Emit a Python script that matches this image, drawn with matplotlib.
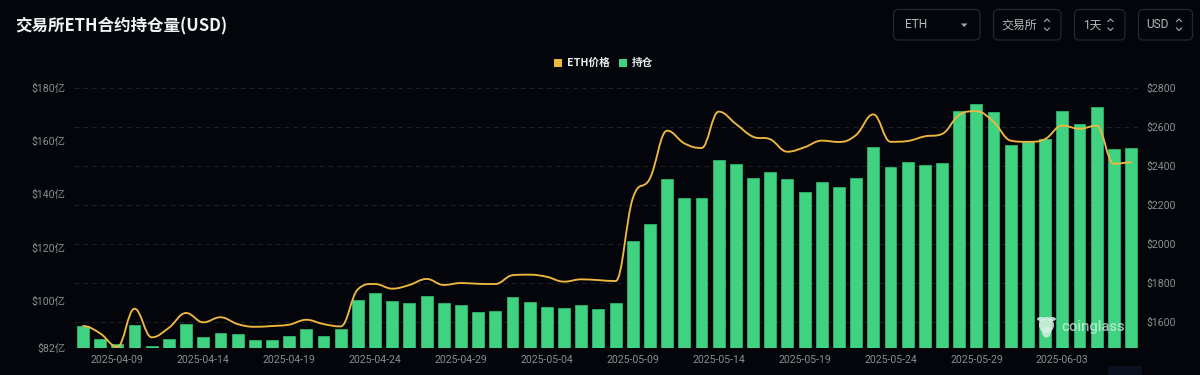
import matplotlib
matplotlib.use("Agg")
import matplotlib.pyplot as plt
import numpy as np
import pandas as pd
from matplotlib.patches import FancyBboxPatch, Rectangle, Ellipse
from matplotlib.path import Path
from matplotlib.patches import PathPatch

FONT = ['Roboto', 'Noto Sans CJK SC']
CJK = ['Noto Sans CJK SC', 'DejaVu Sans']
plt.rcParams['font.family'] = FONT

dates = pd.date_range('2025-04-07', '2025-06-07', freq='D').strftime('%Y-%m-%d').tolist()
open_interest = [90.3, 85.6, 83.6, 90.9, 82.8, 85.6, 91.2, 86.2, 87.7, 87.2, 85.1, 85.1, 86.5, 89.2, 86.7, 89.2,
                 100.2, 102.7, 99.8, 99.2, 101.6, 98.9, 98.2, 95.5, 95.9, 101.2, 99.5, 97.4, 97.2, 98.2, 96.7, 98.9,
                 122.5, 128.8, 145.7, 138.6, 138.8, 152.9, 151.6, 146.1, 148.4, 145.7, 140.9, 144.5, 142.8, 146.2,
                 157.9, 150.5, 152.3, 151.0, 152.0, 171.5, 173.9, 171.0, 158.7, 159.7, 160.8, 171.5, 166.5, 172.9,
                 157.2, 157.4]
eth_price = [1578, 1540, 1471, 1667, 1520, 1569, 1645, 1597, 1623, 1588, 1574, 1578, 1585, 1610, 1588, 1576,
             1767, 1794, 1770, 1789, 1820, 1789, 1799, 1795, 1794, 1839, 1842, 1831, 1806, 1818, 1814, 1809,
             2234, 2337, 2582, 2517, 2493, 2680, 2617, 2551, 2538, 2474, 2497, 2531, 2524, 2560,
             2666, 2525, 2529, 2553, 2565, 2663, 2682, 2628, 2531, 2525, 2539, 2608, 2592, 2608,
             2412, 2419]
left_ticks = [82, 100, 120, 140, 160, 180]
left_labels = ['$82亿', '$100亿', '$120亿', '$140亿', '$160亿', '$180亿']
right_ticks = [1600, 1800, 2000, 2200, 2400, 2600, 2800]
right_labels = ['$1600', '$1800', '$2000', '$2200', '$2400', '$2600', '$2800']
date_ticks = ['2025-04-09', '2025-04-14', '2025-04-19', '2025-04-24', '2025-04-29', '2025-05-04',
              '2025-05-09', '2025-05-14', '2025-05-19', '2025-05-24', '2025-05-29', '2025-06-03']
title = '交易所ETH合约持仓量(USD)'
series_names = ['ETH价格', '持仓']
controls = ['ETH', '交易所', '1天', 'USD']

BG = '#03050a'
GREEN = '#3fd280'
GREEN_EDGE = '#2fb56c'
GOLD = '#eeb73f'
TICK = '#8b8d90'
GRID = '#1e2024'

W, H = 1200, 375
fig = plt.figure(figsize=(W / 100, H / 100), dpi=100, facecolor=BG)
rect = [74.4 / W, 1 - 348.2 / H, (1139.6 - 74.4) / W, (348.2 - 88.3) / H]
x = np.arange(len(dates))
xlim = (-0.5, len(dates) - 0.5)
price_lim = (1464, 2800)

# grid layer + right axis
ax_g = fig.add_axes(rect, zorder=0, facecolor=BG)
ax_g.set_xlim(xlim)
ax_g.set_ylim(price_lim)
ax_g.yaxis.tick_right()
ax_g.set_yticks(right_ticks, right_labels)
ax_g.tick_params(axis='y', length=0, pad=5, labelsize=7.6, labelcolor=TICK)
ax_g.set_xticks([])
ax_g.grid(axis='y', color=GRID, lw=0.7, ls=(0, (5, 4)))
ax_g.axhline(price_lim[0], color=GRID, lw=0.7, ls=(0, (5, 4)))
for s in ax_g.spines.values():
    s.set_visible(False)

# bars + left axis + date axis
ax = fig.add_axes(rect, zorder=1, facecolor='none')
ax.bar(x, open_interest, width=0.69, bottom=0, color=GREEN, edgecolor=GREEN_EDGE, linewidth=0.6)
ax.set_xlim(xlim)
ax.set_ylim(82, 180)
ax.set_yticks(left_ticks, left_labels)
ax.set_xticks([dates.index(d) for d in date_ticks], date_ticks)
ax.tick_params(axis='both', length=0, labelsize=7.6, labelcolor=TICK)
ax.tick_params(axis='y', pad=6.5)
ax.tick_params(axis='x', pad=5)
for s in ax.spines.values():
    s.set_visible(False)

# smooth price line
ax_l = fig.add_axes(rect, zorder=2, facecolor='none')
ax_l.set_xlim(xlim)
ax_l.set_ylim(price_lim)
ax_l.axis('off')
p = np.array(eth_price, float)
t = np.zeros_like(p)
t[1:-1] = (p[2:] - p[:-2]) / 2
for i in range(1, len(p) - 1):
    if (p[i] - p[i - 1]) * (p[i + 1] - p[i]) <= 0:
        t[i] = 0
    else:
        lim = 3 * min(abs(p[i] - p[i - 1]), abs(p[i + 1] - p[i]))
        t[i] = np.sign(t[i]) * min(abs(t[i]), lim)
verts = [(x[0], p[0])]
codes = [Path.MOVETO]
for i in range(len(p) - 1):
    verts += [(x[i] + 0.4, p[i] + t[i] * 0.4), (x[i + 1] - 0.4, p[i + 1] - t[i + 1] * 0.4), (x[i + 1], p[i + 1])]
    codes += [Path.CURVE4] * 3
ax_l.add_patch(PathPatch(Path(verts, codes), fc='none', ec=GOLD, lw=1.35, capstyle='round', joinstyle='round'))

# overlay in pixel coordinates
ov = fig.add_axes([0, 0, 1, 1], zorder=3, facecolor='none')
ov.set_xlim(0, W)
ov.set_ylim(H, 0)
ov.axis('off')

ov.text(15, 26, title, family=CJK, fontsize=11.9, fontweight='bold', color='#f2f3f4', va='center', ha='left')

# legend
ov.add_patch(Rectangle((554, 59), 8, 8, fc=GOLD, ec='none'))
ov.text(567, 63, series_names[0], family=CJK, fontsize=7.7, fontweight='bold', color='#e8e9ea', va='center')
ov.add_patch(Rectangle((619, 59), 8, 8, fc=GREEN, ec='none'))
ov.text(632, 63, series_names[1], family=CJK, fontsize=7.7, fontweight='bold', color='#e8e9ea', va='center')

# top-right controls
boxes = [(893.5, 980), (993.5, 1061), (1074.5, 1125), (1138.5, 1192.5)]
text_x = [904.5, 1001.5, 1083.5, 1146.5]
chev_x = [None, 1047, 1110.5, 1179]
for (x0, x1), label, tx, cx in zip(boxes, controls, text_x, chev_x):
    ov.add_patch(FancyBboxPatch((x0 + 3, 12.5), x1 - x0 - 6, 24.5, boxstyle='round,pad=3,rounding_size=5',
                                fc='none', ec='#26282d', lw=0.9))
    ov.text(tx, 25, label, family=FONT, fontsize=8.6, color='#b7babd', va='center', ha='left')
    if cx is not None:
        ov.plot([cx - 2.5, cx, cx + 2.5], [21.5, 19, 21.5], color='#a5a8ab', lw=0.8)
        ov.plot([cx - 2.5, cx, cx + 2.5], [28, 30.5, 28], color='#a5a8ab', lw=0.8)
ov.fill([961, 967.5, 964.2], [23.5, 23.5, 27], color='#a5a8ab', lw=0)

# watermark
wm = '#d8f0e2'
ov.add_patch(Ellipse((1046.5, 325), 15, 16, fc=wm, ec='none', alpha=0.85))
ov.add_patch(Ellipse((1046.5, 332), 9, 11, fc=wm, ec='none', alpha=0.85))
ov.add_patch(Ellipse((1041, 319), 8, 4, fc=wm, ec='none', alpha=0.85))
ov.add_patch(Ellipse((1052, 319), 8, 4, fc=wm, ec='none', alpha=0.85))
ov.text(1061, 327, 'coinglass', family=FONT, fontsize=10.6, fontweight='medium', color=wm, alpha=0.75,
        va='center', ha='left')

ov.add_patch(Rectangle((1108, 366), 34, 9, fc='#0a1020', ec='none'))

fig.savefig('out.png', dpi=100, facecolor=BG)
